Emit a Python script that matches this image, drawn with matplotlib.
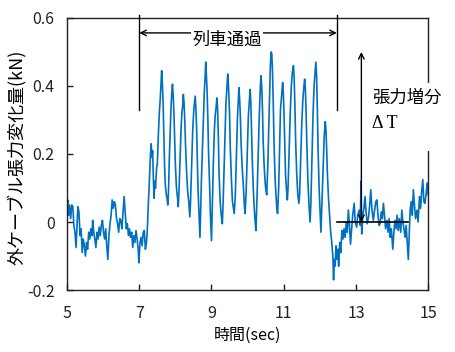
import matplotlib
matplotlib.use("Agg")
import matplotlib.pyplot as plt
from matplotlib.patches import Rectangle

plt.rcParams["font.family"] = ["Noto Sans CJK JP", "DejaVu Sans"]

# time (sec) and cable tension change (kN)
t_pre = [5.00, 5.02, 5.04, 5.07, 5.10, 5.13, 5.16, 5.19, 5.22, 5.25, 5.28, 5.30,
         5.33, 5.36, 5.39, 5.42, 5.45, 5.48, 5.51, 5.54, 5.57, 5.60, 5.63, 5.66,
         5.69, 5.71, 5.74, 5.77, 5.80, 5.83, 5.86, 5.89, 5.92, 5.95, 5.98, 6.01,
         6.04, 6.07, 6.10, 6.13, 6.16, 6.19, 6.22, 6.25, 6.28, 6.31, 6.34, 6.37,
         6.40, 6.43, 6.46, 6.49, 6.52, 6.55, 6.58, 6.61, 6.64, 6.67, 6.70, 6.73,
         6.76, 6.79, 6.82, 6.85, 6.88, 6.91, 6.94, 6.97, 6.99, 7.02, 7.05, 7.08,
         7.11, 7.14, 7.17, 7.20]
y_pre = [0.05, 0.065, 0.02, 0.05, 0.01, 0.05, 0.045, -0.01, -0.03, -0.075, 0.0, 0.045,
         0.03, -0.04, -0.02, -0.09, -0.05, -0.07, -0.10, -0.06, -0.08, -0.03, -0.05, -0.02,
         -0.04, 0.005, -0.03, -0.05, -0.075, -0.03, -0.05, -0.015, -0.04, -0.01, 0.005, -0.03,
         -0.05, -0.02, -0.07, -0.11, -0.04, -0.005, 0.02, 0.065, 0.04, 0.06, 0.05, 0.01,
         -0.005, -0.03, 0.01, 0.005, -0.02, 0.03, 0.075, 0.03, -0.02, -0.005, -0.04, -0.02,
         -0.045, -0.03, -0.075, -0.04, -0.06, -0.025, -0.05, -0.08, -0.12, -0.06, -0.045, -0.07,
         -0.03, -0.025, -0.08, -0.06]

t_pass = [7.22, 7.25, 7.28, 7.31, 7.33, 7.35, 7.37, 7.39, 7.41, 7.43, 7.45, 7.48,
          7.50, 7.53, 7.56, 7.58, 7.60, 7.62, 7.64, 7.66, 7.68, 7.70, 7.72, 7.75,
          7.77, 7.79, 7.81, 7.83, 7.86, 7.88, 7.90, 7.92, 7.94, 7.96, 7.98, 8.00,
          8.03, 8.06, 8.08, 8.10, 8.13, 8.16, 8.18, 8.20, 8.22, 8.24, 8.26, 8.28,
          8.31, 8.34, 8.37, 8.40, 8.42, 8.45, 8.48, 8.51, 8.53, 8.55, 8.57, 8.59,
          8.61, 8.63, 8.66, 8.68, 8.70, 8.72, 8.75, 8.78, 8.80, 8.82, 8.84, 8.86,
          8.88, 8.90, 8.92, 8.95, 8.97, 9.00, 9.02, 9.05, 9.08, 9.10, 9.13, 9.15,
          9.17, 9.19, 9.21, 9.24, 9.27, 9.30, 9.32, 9.35, 9.38, 9.40, 9.43, 9.45,
          9.47, 9.50, 9.52, 9.55, 9.58, 9.61, 9.63, 9.66, 9.69, 9.72, 9.74, 9.76,
          9.78, 9.80, 9.82, 9.85, 9.88, 9.91, 9.93, 9.96, 9.99, 10.02, 10.05, 10.07,
          10.09, 10.11, 10.13, 10.16, 10.19, 10.21, 10.23, 10.26, 10.29, 10.32, 10.35, 10.37,
          10.39, 10.41, 10.43, 10.46, 10.49, 10.51, 10.53, 10.56, 10.59, 10.61, 10.63, 10.65,
          10.67, 10.69, 10.71, 10.73, 10.76, 10.79, 10.81, 10.83, 10.86, 10.89, 10.91, 10.94,
          10.97, 10.99, 11.01, 11.03, 11.05, 11.08, 11.10, 11.12, 11.15, 11.18, 11.21, 11.24,
          11.27, 11.29, 11.31, 11.33, 11.36, 11.39, 11.42, 11.44, 11.47, 11.50, 11.53, 11.56,
          11.58, 11.60, 11.62, 11.64, 11.67, 11.70, 11.73, 11.75, 11.78, 11.81, 11.84, 11.87,
          11.89, 11.91, 11.93, 11.95, 11.98, 12.01, 12.03, 12.06, 12.09, 12.12, 12.15, 12.17,
          12.19, 12.21, 12.24, 12.27, 12.30, 12.33, 12.36]
y_pass = [-0.03, 0.05, 0.12, 0.20, 0.23, 0.19, 0.21, 0.13, 0.07, 0.12, 0.10, 0.16,
          0.17, 0.26, 0.33, 0.36, 0.40, 0.445, 0.41, 0.35, 0.26, 0.17, 0.11, 0.08,
          0.07, 0.05, 0.09, 0.18, 0.28, 0.34, 0.38, 0.405, 0.37, 0.32, 0.24, 0.17,
          0.10, 0.07, 0.045, 0.09, 0.19, 0.28, 0.32, 0.34, 0.375, 0.35, 0.30, 0.23,
          0.15, 0.09, 0.06, 0.015, 0.06, 0.16, 0.27, 0.33, 0.35, 0.37, 0.33, 0.27,
          0.17, 0.09, 0.01, -0.045, 0.03, 0.12, 0.22, 0.33, 0.38, 0.42, 0.47, 0.43,
          0.38, 0.30, 0.20, 0.10, 0.02, -0.055, 0.04, 0.17, 0.27, 0.31, 0.34, 0.365,
          0.33, 0.25, 0.14, 0.06, 0.02, -0.005, 0.05, 0.16, 0.28, 0.35, 0.40, 0.435,
          0.40, 0.32, 0.22, 0.13, 0.06, 0.04, 0.025, 0.08, 0.19, 0.31, 0.35, 0.395,
          0.36, 0.31, 0.23, 0.16, 0.11, 0.05, 0.025, 0.09, 0.20, 0.31, 0.36, 0.39,
          0.35, 0.27, 0.18, 0.09, 0.03, 0.0, -0.025, 0.07, 0.19, 0.30, 0.39, 0.43,
          0.40, 0.34, 0.24, 0.16, 0.11, 0.09, 0.08, 0.17, 0.30, 0.40, 0.46, 0.50,
          0.495, 0.44, 0.35, 0.24, 0.13, 0.07, 0.04, 0.025, 0.10, 0.24, 0.33, 0.37,
          0.41, 0.38, 0.31, 0.22, 0.14, 0.09, 0.065, 0.10, 0.21, 0.32, 0.40, 0.44,
          0.46, 0.42, 0.34, 0.24, 0.14, 0.08, 0.055, 0.08, 0.19, 0.29, 0.36, 0.40,
          0.42, 0.39, 0.32, 0.23, 0.12, 0.05, 0.0, 0.05, 0.18, 0.31, 0.40, 0.44,
          0.47, 0.43, 0.34, 0.22, 0.10, 0.02, -0.03, 0.06, 0.16, 0.25, 0.295, 0.27,
          0.21, 0.14, 0.07, 0.02, -0.03, -0.06, -0.10]

t_post = [12.38, 12.40, 12.42, 12.45, 12.47, 12.50, 12.52, 12.55, 12.58, 12.61, 12.64, 12.67,
          12.70, 12.73, 12.76, 12.79, 12.82, 12.85, 12.88, 12.91, 12.95, 12.98, 13.02, 13.05,
          13.09, 13.12, 13.14, 13.16, 13.19, 13.22, 13.25, 13.28, 13.31, 13.35, 13.38, 13.41,
          13.44, 13.48, 13.51, 13.55, 13.58, 13.61, 13.64, 13.67, 13.70, 13.73, 13.76, 13.79,
          13.82, 13.86, 13.89, 13.92, 13.95, 13.98, 14.02, 14.05, 14.08, 14.11, 14.14, 14.17,
          14.20, 14.24, 14.27, 14.30, 14.33, 14.36, 14.39, 14.42, 14.45, 14.48, 14.50, 14.53,
          14.56, 14.59, 14.62, 14.65, 14.69, 14.72, 14.76, 14.79, 14.82, 14.85, 14.88, 14.91,
          14.94, 14.97, 15.00]
y_post = [-0.17, -0.11, -0.13, -0.07, -0.11, -0.08, -0.13, -0.06, -0.09, -0.025, -0.05, -0.02,
          -0.045, 0.0, -0.03, 0.035, -0.01, -0.065, -0.02, 0.02, 0.055, 0.0, -0.015, 0.02,
          0.035, -0.01, 0.12, -0.035, 0.02, 0.04, 0.075, 0.03, -0.005, 0.015, 0.05, 0.095,
          0.04, 0.005, 0.03, 0.06, 0.065, 0.02, -0.01, -0.005, 0.03, 0.01, 0.055, 0.02,
          -0.02, 0.005, -0.03, 0.01, -0.045, -0.02, -0.08, -0.03, 0.005, -0.02, 0.02, -0.025,
          0.01, -0.03, 0.035, 0.0, -0.02, -0.045, -0.01, -0.06, -0.11, -0.02, 0.035, 0.06,
          0.02, 0.095, 0.05, 0.01, 0.035, 0.0, 0.075, 0.04, 0.09, 0.125, 0.06, 0.055,
          0.08, 0.115, 0.08]

t = t_pre + t_pass + t_post
y = y_pre + y_pass + y_post

fig = plt.figure(figsize=(4.56, 3.52), dpi=100)
ax = fig.add_axes([0.147, 0.176, 0.792, 0.773])

ax.plot(t, y, color="#0070C0", lw=1.2, zorder=2)

ax.set_xlim(5, 15)
ax.set_ylim(-0.2, 0.6)
ax.set_xticks([5, 7, 9, 11, 13, 15])
ax.set_yticks([-0.2, 0, 0.2, 0.4, 0.6])
ax.set_yticklabels(["-0.2", "0", "0.2", "0.4", "0.6"])
ax.tick_params(direction="in", length=4, width=1, labelsize=11.5, colors="#222222")
ax.tick_params(axis="x", pad=11)
ax.tick_params(axis="y", pad=9)
for s in ax.spines.values():
    s.set_color("#222222")
    s.set_linewidth(1.0)

ax.set_xlabel("時間(sec)", fontsize=11.5, labelpad=3)
ax.set_ylabel("外ケーブル張力変化量(kN)", fontsize=13)
ax.yaxis.set_label_coords(-0.112, 0.487)

# train passage marks
for xv in [7.0, 12.47]:
    ax.plot([xv, xv], [0.609, 0.33], color="black", lw=1.0, clip_on=False, zorder=4)
ax.annotate("", xy=(7.0, 0.556), xytext=(12.47, 0.556),
            arrowprops=dict(arrowstyle="<->", color="black", lw=1.0,
                            shrinkA=0, shrinkB=0), zorder=4)
ax.text(9.43, 0.537, "列車通過", fontsize=12.5, ha="center", va="center",
        bbox=dict(facecolor="white", edgecolor="none", pad=1), zorder=5)

# tension increment
ax.annotate("", xy=(13.15, 0.5), xytext=(13.15, 0.0),
            arrowprops=dict(arrowstyle="<->", color="black", lw=1.0,
                            shrinkA=0, shrinkB=0), zorder=4)
ax.plot([12.47, 14.45], [0.0, 0.0], color="black", lw=1.2, zorder=4)
ax.add_patch(Rectangle((13.34, 0.21), 2.2, 0.2, facecolor="white",
                       edgecolor="none", clip_on=False, zorder=3))
ax.text(13.45, 0.365, "張力増分", fontsize=12.5, ha="left", va="center", zorder=5,
        clip_on=False)
ax.text(13.45, 0.29, "Δ T", fontsize=13, ha="left", va="center", zorder=5,
        family="Liberation Serif", clip_on=False)

plt.savefig("out.png", dpi=100)
